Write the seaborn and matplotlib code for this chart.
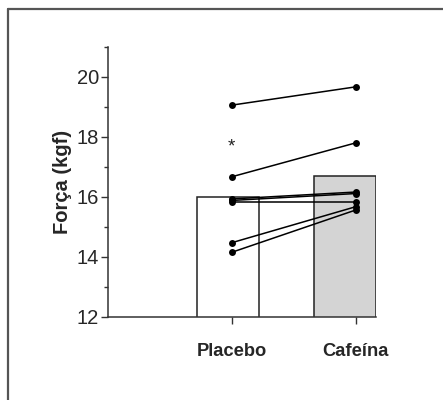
import numpy as np
import pandas as pd
import seaborn as sns
import matplotlib
matplotlib.use("Agg")
import matplotlib.pyplot as plt
from matplotlib.lines import Line2D

# Grip strength (kgf) for each subject under both conditions
groups = ["Placebo", "Cafeína"]
placebo = [19.06, 16.67, 15.93, 15.88, 15.82, 14.47, 14.15]
cafeina = [19.67, 17.80, 16.16, 16.11, 15.82, 15.67, 15.56]
bar_means = [16.0, 16.7]
bar_colors = ["white", "#d4d4d4"]
star_label = "*"
star_value = 17.8

y_ticks = [12, 14, 16, 18, 20]
y_minor = [13, 15, 17, 19, 21]

sns.set_style("ticks")
plt.rcParams["font.family"] = ["Liberation Sans", "DejaVu Sans"]

fig = plt.figure(figsize=(4.43, 4.0), dpi=100)
ax = fig.add_axes([108 / 443, 83.3 / 400, 268 / 443, 269.7 / 400])

positions = [1, 2]
bars = pd.DataFrame({"pos": positions, "mean": bar_means, "group": groups})
sns.barplot(data=bars, x="pos", y="mean", hue="group", palette=bar_colors,
            native_scale=True, width=0.5, errorbar=None, edgecolor="#222222",
            linewidth=1.1, legend=False, ax=ax)

# bars sit slightly left of their tick positions
bar_offsets = [-0.032, -0.088]
for patch, off in zip(sorted(ax.patches, key=lambda p: p.get_x()), bar_offsets):
    patch.set_x(patch.get_x() + off)

subjects = np.arange(len(placebo))
pairs = pd.DataFrame({
    "subject": np.concatenate([subjects, subjects]),
    "pos": [1] * len(placebo) + [2] * len(cafeina),
    "value": placebo + cafeina,
})
sns.lineplot(data=pairs, x="pos", y="value", units="subject", estimator=None,
             color="black", marker="o", markersize=5, markeredgewidth=0,
             linewidth=1.1, legend=False, ax=ax)

# the asterisk glyph sits high in its box, so nudge it down a little
ax.annotate(star_label, (1, star_value), xytext=(0, -3),
            textcoords="offset points", ha="center", va="center",
            fontsize=13.5, color="#222222")

ax.set_xlim(0, 2.164)
ax.set_ylim(12, 21)
ax.set_xticks(positions, groups)
ax.set_yticks(y_ticks)
ax.set_yticks(y_minor, minor=True)
ax.set_xlabel("")
ax.set_ylabel("Força (kgf)", fontsize=14.5, fontweight="bold", labelpad=3)

sns.despine(ax=ax)
for side in ("left", "bottom"):
    ax.spines[side].set_linewidth(1.1)
    ax.spines[side].set_color("#333333")
ax.tick_params(axis="y", which="major", length=5, width=1.0, labelsize=14.5,
               color="#333333", pad=1.5)
ax.tick_params(axis="y", which="minor", length=3, width=1.0, color="#333333")
ax.tick_params(axis="x", length=5, width=1.0, labelsize=13.2, color="#333333",
               pad=14)
for lbl in ax.get_xticklabels():
    lbl.set_fontweight("bold")

# outer frame (left and top edges)
frame_kw = dict(transform=fig.transFigure, color="#555555", linewidth=1.6)
fig.add_artist(Line2D([7.5 / 443, 7.5 / 443], [0, 1 - 9 / 400], **frame_kw))
fig.add_artist(Line2D([7.5 / 443, 1], [1 - 9 / 400, 1 - 9 / 400], **frame_kw))

fig.savefig("out.png", dpi=100)
